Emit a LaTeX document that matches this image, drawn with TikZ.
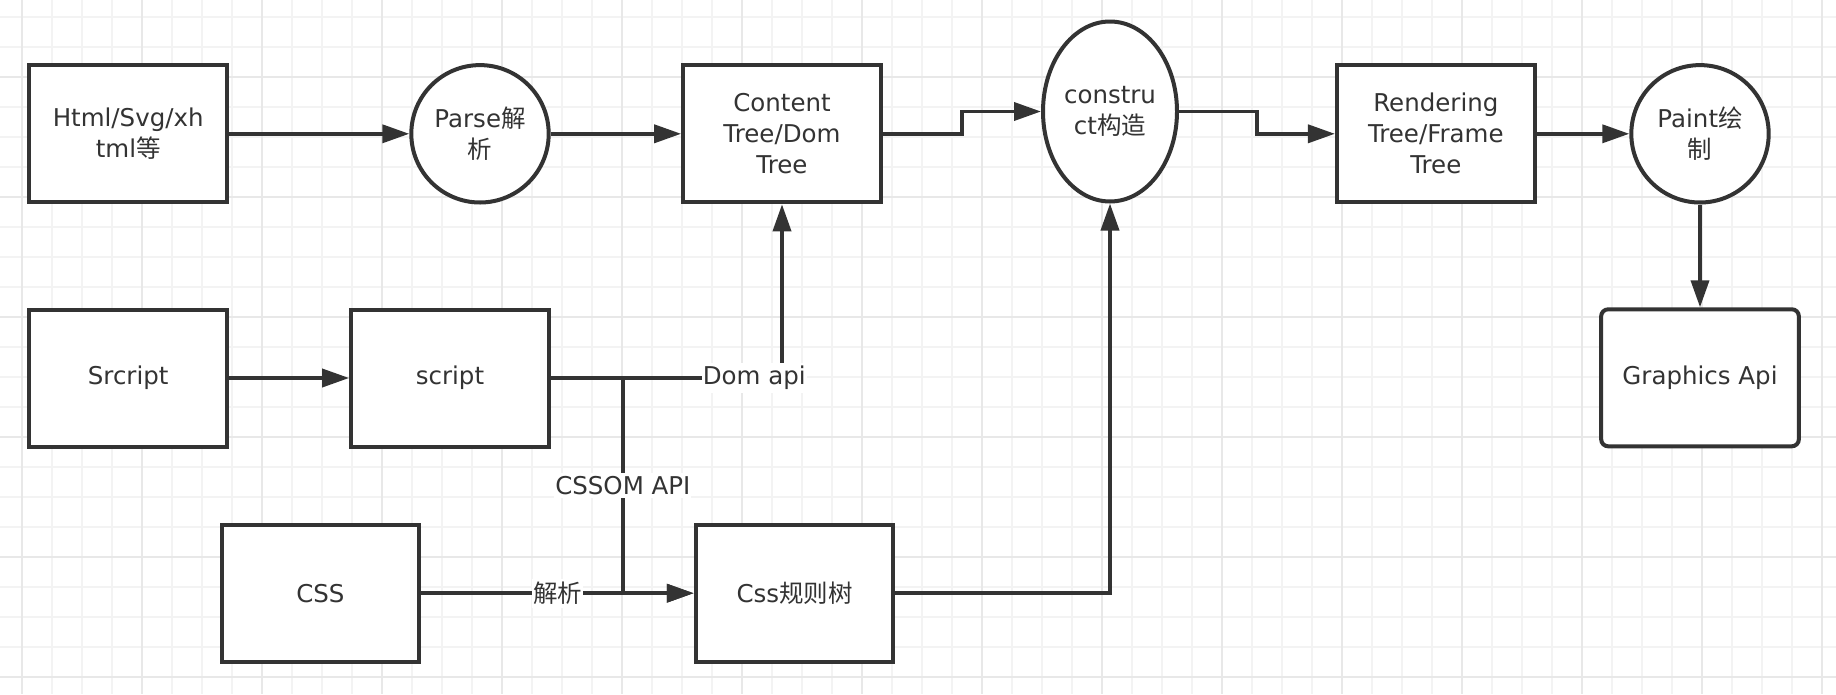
\documentclass[tikz,border=0pt]{standalone}
\usepackage{fontspec}
\setmainfont{DejaVu Sans}
\newfontfamily\cjk{Noto Sans CJK SC}
\usetikzlibrary{arrows.meta,shapes.geometric,calc}
\definecolor{dk}{RGB}{51,51,51}
\definecolor{gminor}{RGB}{243,243,243}
\definecolor{gmajor}{RGB}{232,232,232}
\newcommand\mytxt{\fontsize{24.5}{31}\selectfont}
\begin{document}
\begin{tikzpicture}[x=1pt,y=-1pt,
  shp/.style={draw=dk, line width=4pt, fill=white, inner sep=0pt, align=center, text=dk, font=\mytxt},
  box/.style={shp, rectangle, minimum width=197.7pt, minimum height=137pt},
  rbox/.style={box, rounded corners=7pt},
  circ/.style={shp, circle, minimum size=137.4pt},
  ell/.style={shp, ellipse, minimum width=134pt, minimum height=180pt},
  arr/.style={draw=dk, line width=3.7pt, -{Triangle[length=27pt,width=18pt]}},
  lbl/.style={fill=white, text=dk, font=\mytxt, inner xsep=1pt, inner ysep=3pt},
  gmin/.style={draw=gminor, line width=2pt},
  gmaj/.style={draw=gmajor, line width=2.2pt}
]
\useasboundingbox[fill=white] (0,0) rectangle (1836,694);
% grid
\foreach \i in {0,...,60} \draw[gmin] ({21.7+30*\i},0) -- ({21.7+30*\i},694);
\foreach \i in {0,...,22} \draw[gmin] (0,{16.7+30*\i}) -- (1836,{16.7+30*\i});
\foreach \i in {0,...,15} \draw[gmaj] ({21.7+120*\i},0) -- ({21.7+120*\i},694);
\foreach \i in {0,...,5} \draw[gmaj] (0,{76.7+120*\i}) -- (1836,{76.7+120*\i});

% nodes
\node[box] (html) at (128.2,133.8) {Html/Svg/xh\\tml{\cjk 等}};
\node[circ] (parse) at (480,133.8) {Parse{\cjk 解}\\{\cjk 析}};
\node[box] (content) at (782,133.8) {Content\\Tree/Dom\\Tree};
\node[ell] (construct) at (1110,111.5) {constru\\ct{\cjk 构造}};
\node[box] (render) at (1435.8,133.8) {Rendering\\Tree/Frame\\Tree};
\node[circ] (paint) at (1700,133.8) {Paint{\cjk 绘}\\{\cjk 制}};

\node[box] (srcript) at (128.2,378) {Srcript};
\node[box] (script) at (450,378) {script};
\node[rbox] (graphics) at (1700,377.8) {Graphics Api};

\node[box] (css) at (320.4,593.2) {CSS};
\node[box] (css2) at (794.6,593.2) {Css{\cjk 规则树}};

% connectors
\draw[arr] (html) -- (parse);
\draw[arr] (parse) -- (content);
\draw[arr] (content.east) -| ($(content.east)!0.5!(construct.west)$) |- (construct.west);
\draw[arr] (construct.east) -| ($(construct.east)!0.5!(render.west)$) |- (render.west);
\draw[arr] (render) -- (paint);
\draw[arr] (paint) -- (graphics);
\draw[arr] (srcript) -- (script);
\draw[arr] (script.east) -| node[lbl, pos=0.44] {Dom api} (content.south);
\draw[arr] (script.east) -- ++(72,0) |- node[lbl, pos=0.25] {CSSOM API} (css2.west);
\draw[arr] (css) -- node[lbl] {\cjk 解析} (css2);
\draw[arr] (css2.east) -| (construct.south);
\end{tikzpicture}
\end{document}
